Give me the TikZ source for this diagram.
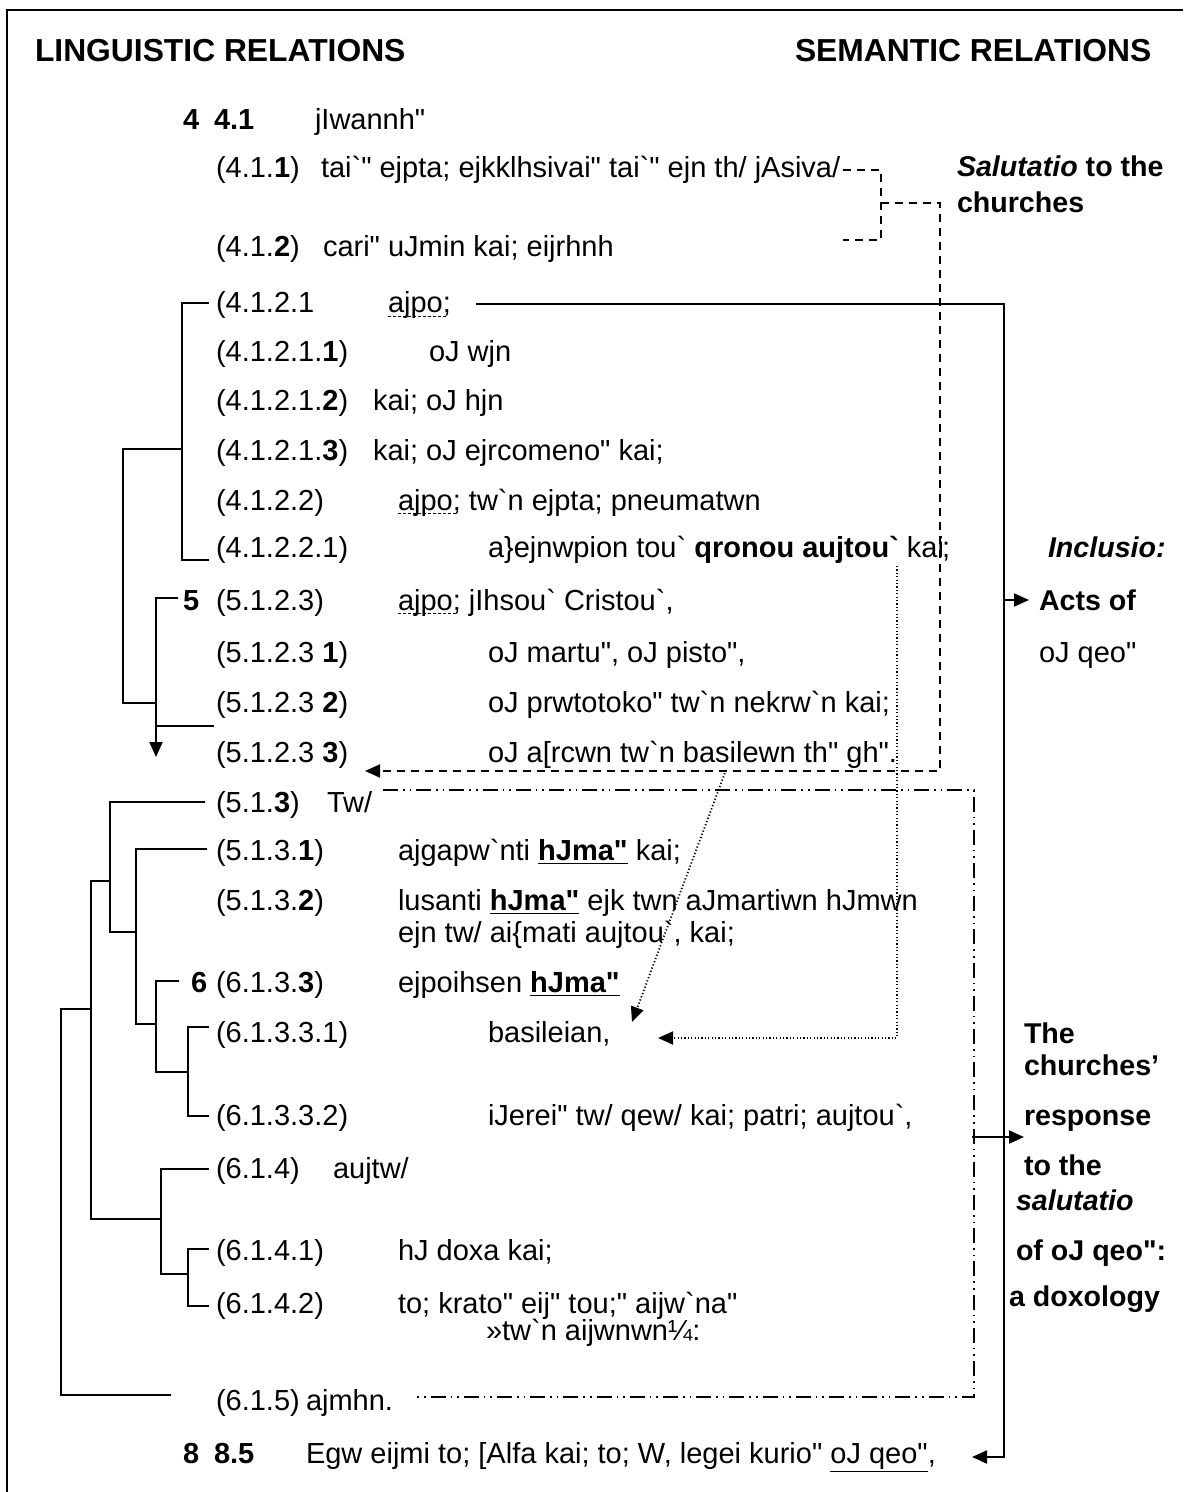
\documentclass[tikz,border=0pt]{standalone}
\usepackage{fontspec}
\setmainfont{Liberation Sans}
\newfontfamily\gk{Liberation Sans}
\usetikzlibrary{arrows.meta,calc}
\begin{document}
\begin{tikzpicture}[x=0.5pt,y=-0.5pt,
  lab/.style={anchor=base west, inner sep=0pt, outer sep=0pt, font=\gk\fontsize{14.5}{17}\selectfont},
  hdr/.style={anchor=base west, inner sep=0pt, outer sep=0pt, font=\bfseries\fontsize{15.9}{19}\selectfont},
  sem/.style={anchor=base west, inner sep=0pt, outer sep=0pt, font=\bfseries\fontsize{14.3}{17}\selectfont},
  ln/.style={line width=1pt},
  tip/.style={-{Triangle[length=7.5pt,width=6.5pt]}},
  dsh/.style={line width=0.9pt, dash pattern=on 4pt off 3pt},
  dotl/.style={line width=0.9pt, dash pattern=on 0.6pt off 1.1pt},
  ddl/.style={line width=0.9pt, dash pattern=on 7.5pt off 2.5pt on 0.8pt off 2.5pt on 0.8pt off 2.5pt},
  ul/.style={line width=0.4pt, dash pattern=on 1.5pt off 1pt}]
\useasboundingbox (0,0) rectangle (1183,1492);
\fill[white] (0,0) rectangle (1183,1492);
% frame
\draw[line width=1.3pt] (7,1492) -- (7,10) -- (1183,10);

% headers
\node[hdr] (hL) at (35,62) {LINGUISTIC RELATIONS};
\node[hdr] (hS) at (795,62) {SEMANTIC RELATIONS};

% rows
\node[lab] (n4) at (183,130) {\textbf{4}};
\node[lab] (n41) at (214,130) {\textbf{4.1}};
\node[lab] (t41) at (315,130) {jIwannh"};

\node[lab] (l411) at (216,178) {(4.1.\textbf{1})};
\node[lab] (t411) at (321,178) {tai`" ejpta; ejkklhsivai" tai`" ejn th/ jAsiva/};

\node[lab] (l412) at (216,257) {(4.1.\textbf{2})};
\node[lab] (t412) at (323,257) {cari" uJmin kai; eijrhnh};

\node[lab] (l4121) at (216,313) {(4.1.2.1};
\node[lab] (apoA) at (388,313) {ajpo;};

\node[lab] (l41211) at (216,362) {(4.1.2.1.\textbf{1})};
\node[lab] (t41211) at (429,362) {oJ wjn};

\node[lab] (l41212) at (216,410) {(4.1.2.1.\textbf{2})};
\node[lab] (t41212) at (373,410) {kai; oJ hjn};

\node[lab] (l41213) at (216,460) {(4.1.2.1.\textbf{3})};
\node[lab] (t41213) at (373,460) {kai; oJ ejrcomeno" kai;};

\node[lab] (l4122) at (216,510) {(4.1.2.2)};
\node[lab] (apoB) at (398,510) {ajpo;};
\node[lab, anchor=base west] (t4122) at (apoB.base east) {\ tw`n ejpta; pneumatwn};

\node[lab] (l41221) at (216,557) {(4.1.2.2.1)};
\node[lab] (t41221) at (488,557) {a\}ejnwpion tou` \textbf{qronou aujtou`} kai};
\node[lab] (sc41221) at (942,557) {;};

\node[lab] (n5) at (183,610) {\textbf{5}};
\node[lab] (l5123) at (216,610) {(5.1.2.3)};
\node[lab] (apoC) at (398,610) {ajpo;};
\node[lab, anchor=base west] (t5123) at (apoC.base east) {\ jIhsou` Cristou`,};

\node[lab] (l51231) at (216,662) {(5.1.2.3 \textbf{1})};
\node[lab] (t51231) at (488,662) {oJ martu", oJ pisto",};

\node[lab] (l51232) at (216,712) {(5.1.2.3 \textbf{2})};
\node[lab] (t51232) at (488,712) {oJ prwtotoko" tw`n nekrw`n kai;};

\node[lab] (l51233) at (216,762) {(5.1.2.3 \textbf{3})};
\node[lab] (t51233) at (488,762) {oJ a[rcwn tw`n basilewn th" gh".};

\node[lab] (l513) at (216,812) {(5.1.\textbf{3})};
\node[lab] (t513) at (327,812) {Tw/};

\node[lab] (l5131) at (216,860) {(5.1.3.\textbf{1})};
\node[lab] (t5131) at (398,860) {ajgapw`nti \underline{\textbf{hJma"}} kai;};

\node[lab] (l5132) at (216,910) {(5.1.3.\textbf{2})};
\node[lab] (t5132) at (398,910) {lusanti \underline{\textbf{hJma"}} ejk twn aJmartiwn hJmwn};
\node[lab] (t5132b) at (398,942) {ejn tw/ ai\{mati aujtou`, kai;};

\node[lab] (n6) at (191,992) {\textbf{6}};
\node[lab] (l6133) at (216,992) {(6.1.3.\textbf{3})};
\node[lab] (t6133) at (398,992) {ejpoihsen \underline{\textbf{hJma"}}};

\node[lab] (l61331) at (216,1042) {(6.1.3.3.1)};
\node[lab] (t61331) at (488,1042) {basileian,};

\node[lab] (l61332) at (216,1125) {(6.1.3.3.2)};
\node[lab] (t61332) at (488,1125) {iJerei" tw/ qew/ kai; patri; aujtou`,};

\node[lab] (l614) at (216,1178) {(6.1.4)};
\node[lab] (t614) at (333,1178) {aujtw/};

\node[lab] (l6141) at (216,1260) {(6.1.4.1)};
\node[lab] (t6141) at (398,1260) {hJ doxa kai;};

\node[lab] (l6142) at (216,1313) {(6.1.4.2)};
\node[lab] (t6142) at (398,1313) {to; krato" eij" tou;" aijw`na"};
\node[lab] (t6142b) at (486,1340) {»tw`n aijwnwn¼:};

\node[lab] (l615) at (216,1410) {(6.1.5)};
\node[lab] (t615) at (306,1410) {ajmhn.};

\node[lab] (n8) at (183,1463) {\textbf{8}};
\node[lab] (n85) at (214,1463) {\textbf{8.5}};
\node[lab] (t85) at (306,1463) {Egw eijmi to; [Alfa kai; to; W, legei kurio" \underline{oJ qeo"},};

% semantic column
\node[sem] (s1a) at (957,177) {\textit{Salutatio} to the};
\node[sem] (s1b) at (957,213) {churches};
\node[sem] (s2) at (1048,557) {\textit{Inclusio:}};
\node[sem] (s3a) at (1039,610) {Acts of};
\node[lab] (s3b) at (1039,662) {oJ qeo"};
\node[sem] (s4a) at (1024,1043) {The};
\node[sem] (s4b) at (1024,1075) {churches'};
\node[sem] (s4c) at (1024,1125) {response};
\node[sem] (s4d) at (1024,1175) {to the};
\node[sem] (s4e) at (1016,1210) {\textit{salutatio}};
\node[sem] (s4f) at (1016,1260) {of {\gk\bfseries oJ qeo"}:};
\node[sem] (s4g) at (1009,1306) {a doxology};

% dashed underlines of ajpo;
\foreach \n in {apoA,apoB,apoC}
  \draw[ul] ([yshift=-1.6pt]\n.base west) -- ([yshift=-1.6pt,xshift=-2pt]\n.base east);

% tree (linguistic relations)
\draw[ln] (209,303) -- (182,303) -- (182,560) -- (209,560);
\draw[ln] (182,449) -- (123,449) -- (123,703) -- (156,703);
\draw[ln,tip] (178,598) -- (156,598) -- (156,757);
\draw[ln] (156,726) -- (214,726);
\draw[ln] (205,802) -- (110,802) -- (110,932) -- (136,932);
\draw[ln] (207,849) -- (136,849) -- (136,1024) -- (156,1024);
\draw[ln] (179,981) -- (156,981) -- (156,1072) -- (188,1072);
\draw[ln] (209,1027) -- (188,1027) -- (188,1116) -- (209,1116);
\draw[ln] (110,881) -- (91,881) -- (91,1219) -- (161,1219);
\draw[ln] (209,1169) -- (161,1169) -- (161,1274) -- (188,1274);
\draw[ln] (209,1249) -- (188,1249) -- (188,1306) -- (209,1306);
\draw[ln] (91,1009) -- (61,1009) -- (61,1395) -- (171,1395);

% solid bracket: inclusio
\coordinate (bTop) at (476,304);
\coordinate (bEnd) at (972,1457);
\draw[ln,tip] (bTop) -- (1004,304) -- (1004,1457) -- (bEnd);
\draw[ln,tip] (1004,600) -- (1029,600);
\draw[ln,tip] (972,1137) -- (1024,1137);

% dashed: salutatio
\draw[dsh] (843,170) -- (881,170) -- (881,240) -- (843,240);
\coordinate (dTip) at (365,771);
\draw[dsh,tip] (881,203) -- (940,203) -- (940,771) -- (dTip);

% dotted
\coordinate (pTip) at (658,1038);
\draw[dotl,tip] (897,566) -- (897,1038) -- (pTip);
\coordinate (qTip) at (632,1022);
\draw[dotl,tip] (726,770) -- (qTip);

% dash-dot box
\draw[ddl] (383,790) -- (974,790) -- (974,1397) -- (417,1397);
\end{tikzpicture}
\end{document}
